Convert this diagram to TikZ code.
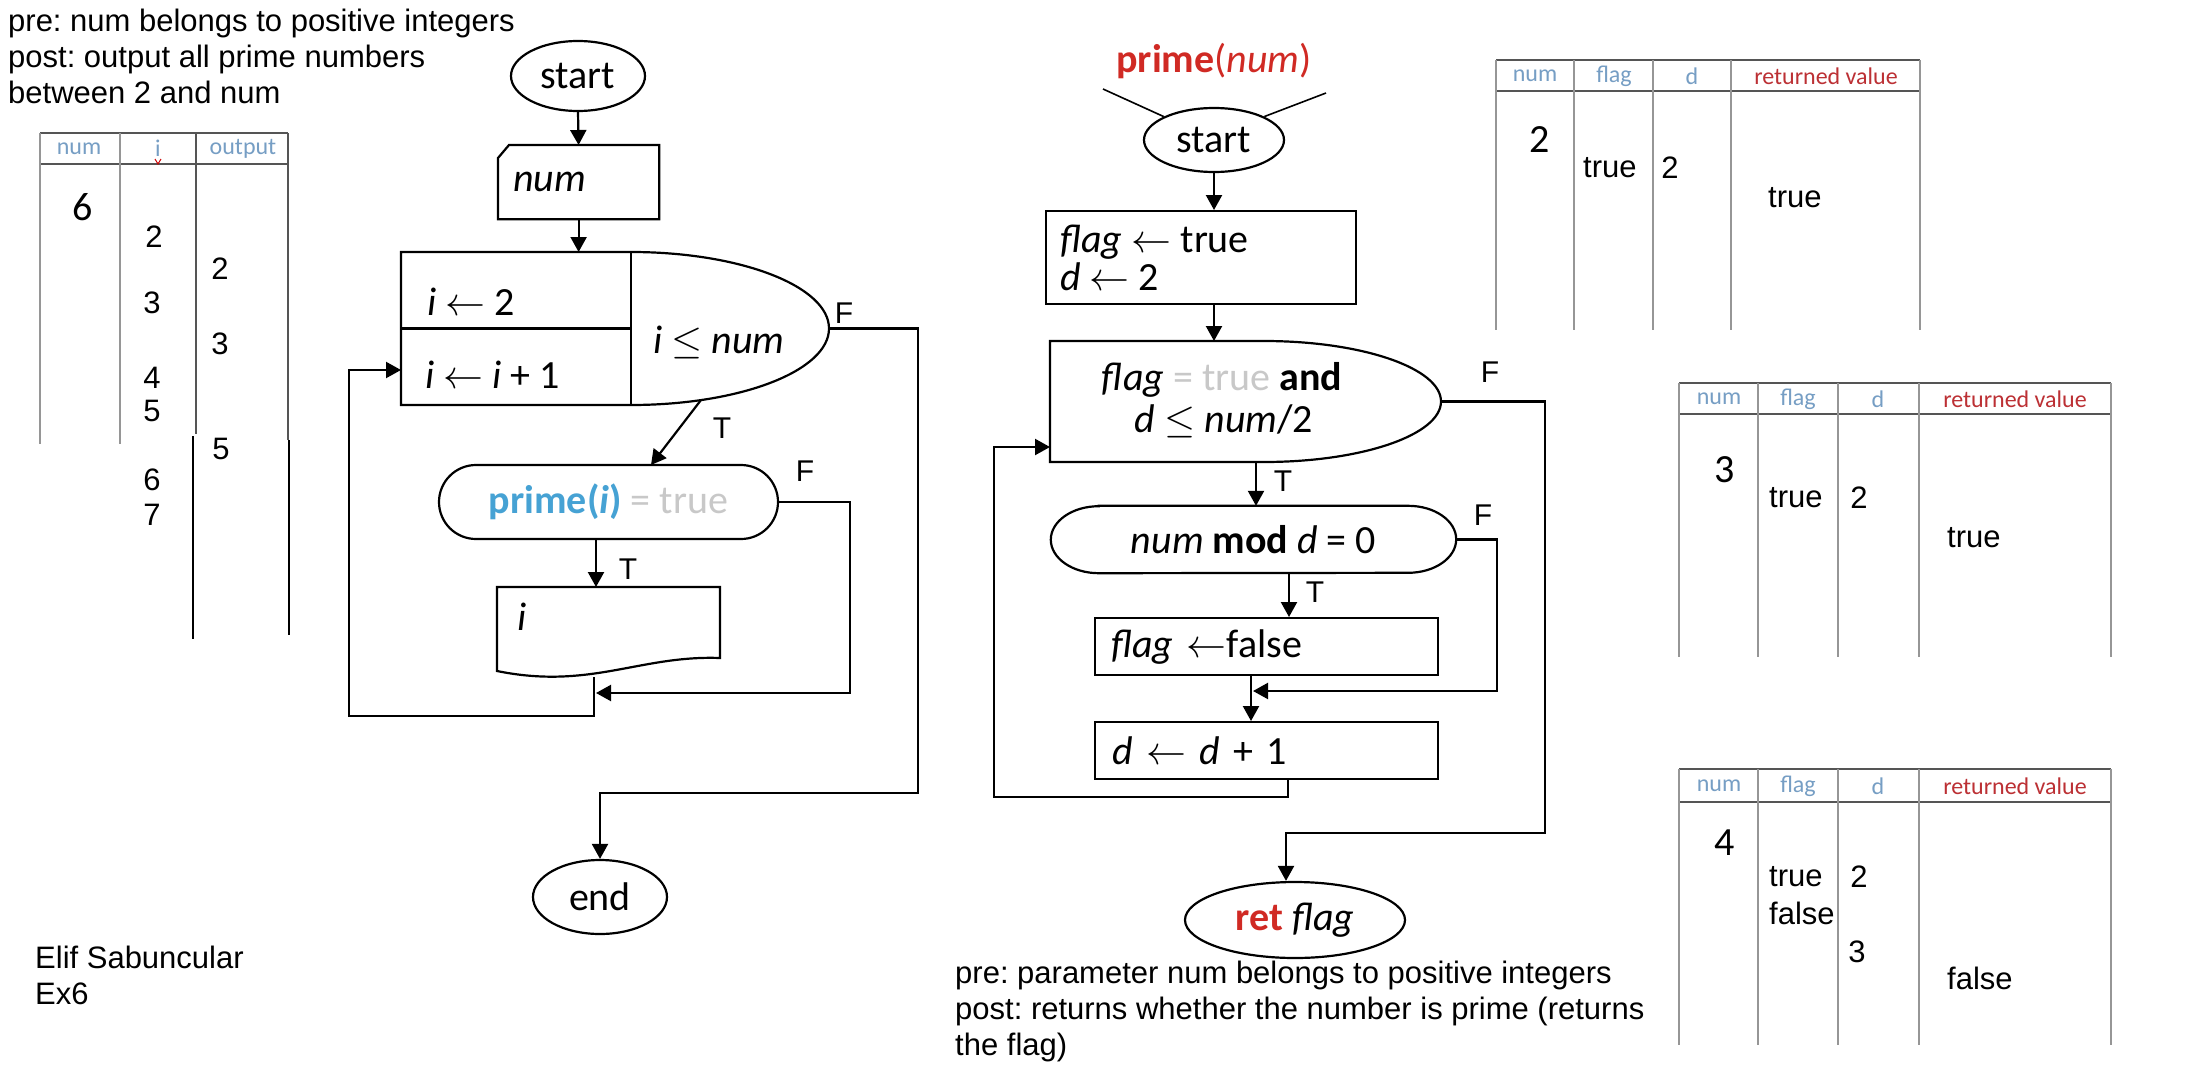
\RequirePackage{fix-cm}
\documentclass[tikz,border=0pt]{standalone}
\usepackage{fontspec}
\setmainfont{Liberation Sans}
\newfontfamily\calfont{Carlito}
\usetikzlibrary{arrows.meta,shapes.geometric,calc}
\frenchspacing
\definecolor{hdrblue}{RGB}{118,158,196}
\definecolor{hdrred}{RGB}{188,48,52}
\definecolor{fnred}{RGB}{208,42,36}
\definecolor{pblue}{RGB}{70,162,212}
\definecolor{lgray}{RGB}{200,200,200}
\definecolor{tline}{RGB}{150,150,150}
\definecolor{tdark}{RGB}{85,85,85}
\tikzset{
  flow/.style={line width=2.2pt, draw=black},
  arr/.style={flow, -{Triangle[length=15pt,width=16pt]}},
  fc/.style={font=\calfont\fontsize{40}{46}\selectfont, inner sep=0pt},
  tight/.style={text height=26pt, text depth=7pt},
  lab/.style={font=\fontsize{30}{36}\selectfont, inner sep=0pt},
  note/.style={font=\fontsize{31}{37}\selectfont, inner sep=0pt, anchor=base west},
  th/.style={font=\calfont\fontsize{24}{28}\selectfont, inner sep=0pt},
  td/.style={font=\fontsize{31}{36}\selectfont, inner sep=0pt},
  tnum/.style={font=\calfont\fontsize{40}{46}\selectfont, inner sep=0pt},
  ghost/.style={rectangle, inner sep=0pt, outer sep=0pt},
  sbox/.style={fc, draw, flow, anchor=north west, align=left},
}
\begin{document}
\begin{tikzpicture}[x=1pt,y=-1pt]
\useasboundingbox (0,0) rectangle (2190,1068);
\fill[white] (0,0) rectangle (2190,1068);

% ---------- notes ----------
\node[note] (n1) at (8,31) {pre: num belongs to positive integers};
\node[note] (n2) at (8,67) {post: output all prime numbers};
\node[note] (n3) at (8,103) {between 2 and num};
\node[note] (n4) at (955,983) {pre: parameter num belongs to positive integers};
\node[note] (n5) at (955,1019) {post: returns whether the number is prime (returns};
\node[note] (n6) at (955,1055) {the flag)};
\node[note] (n7) at (35,968) {Elif Sabuncular};
\node[note] (n8) at (35,1004) {Ex6};

% ---------- left trace table ----------
\draw[tdark, line width=1.8pt] (40,133) -- (288,133) (40,164) -- (288,164);
\draw[tline, line width=1.5pt] (40,133) -- (40,444) (120,133) -- (120,444);
\draw[tdark, line width=1.5pt] (196,133) -- (196,434) (288,133) -- (288,440);
\draw[black, line width=1.5pt] (193,436) -- (193,639) (289,440) -- (289,635);
\node[th, text=hdrblue] (lh1) at (79,149) {num};
\node[th, text=hdrblue] (lh2) at (158,148) {i};
\draw[red!80!black, line width=1pt] (155,159) -- (158,164) -- (161,159);
\node[th, text=hdrblue] (lh3) at (243,149) {output};
\node[tnum] (lv6) at (83,207) {6};
\node[td] (li2) at (154,237) {2};
\node[td] (li3) at (152,303) {3};
\node[td] (li4) at (152,378) {4};
\node[td] (li5) at (152,411) {5};
\node[td] (li6) at (152,480) {6};
\node[td] (li7) at (152,515) {7};
\node[td] (lo2) at (220,269) {2};
\node[td] (lo3) at (220,344) {3};
\node[td] (lo5) at (221,449) {5};

% ---------- left flowchart ----------
\node[ellipse, draw, flow, fc, minimum width=134pt, minimum height=70pt] (startL) at (578,76) {start};
\node[sbox, draw=none, minimum width=159pt, minimum height=72pt, inner xsep=14pt, text width=131pt] (numbox) at (498,145) {\textit{num}};
\draw[flow] ($(numbox.north west)+(0,13)$) -- ($(numbox.north west)+(11,0)$) -- (numbox.north east) -- (numbox.south east) -- (numbox.south west) -- cycle;

\node[ghost, anchor=north west, minimum width=230pt, minimum height=153pt] (bigL) at (401,252) {};
\draw[flow] (bigL.north west) -- (bigL.north east) arc[start angle=90, end angle=-90, x radius=198pt, y radius=76.5pt] -- (bigL.south west) -- cycle;
\draw[flow] (bigL.north east) -- (bigL.south east);
\draw[flow] (bigL.west) -- (bigL.east);
\coordinate (bigLtip) at ($(bigL.east)+(198,0)$);
\node[fc, anchor=west] (iinit) at (427,302) {\textit{i} $\leftarrow$ 2};
\node[fc, anchor=west] (iinc) at (425,375) {\textit{i} $\leftarrow$ \textit{i} + 1};
\node[fc, anchor=west] (icond) at (653,342) {\textit{i} $\leq$ \textit{num}};

\node[ghost, fc, draw, flow, rounded corners=37pt, minimum width=339pt, minimum height=74pt] (primeL) at (608.5,502) {{\color{pblue}\textbf{prime(\textit{i})}} {\color{lgray}= true}};

\node[ghost, anchor=north west, minimum width=223pt, minimum height=71pt] (outL) at (497,587) {};
\draw[flow] (outL.south east) .. controls ($(outL.south east)+(-80,-3)$) and ($(outL.south east)+(-130,32)$) .. ($(outL.south west)+(0,13)$) -- (outL.north west) -- (outL.north east) -- cycle;
\node[fc, anchor=west] (outtxt) at (517,617) {\textit{i}};

\node[ellipse, draw, flow, fc, minimum width=134pt, minimum height=74pt] (endL) at (600,897) {end};

\draw[arr] (startL.south) -- (numbox.north);
\draw[arr] (numbox.south) -- (numbox.south |- bigL.north);
\coordinate (tL1) at ($(bigL.south east)+(70,-5)$);
\coordinate (tL2) at ($(primeL.north)+(42.5,0)$);
\draw[arr] (tL1) -- (tL2);
\coordinate (xL) at (596,0);
\draw[arr] (xL |- primeL.south) -- (xL |- outL.north);
\coordinate (outLbot) at (594,677);
\coordinate (mergeL) at (596,693);
\draw[arr] (primeL.east) -- ++(72,0) |- (mergeL);
\coordinate (loopLb) at (594,716);
\coordinate (loopLin) at ($(bigL.south west)+(0,-35)$);
\draw[arr] (outLbot) -- (loopLb) -| ($(loopLin)+(-52,0)$) -- (loopLin);
\coordinate (endLin) at (600,793);
\draw[arr] (bigLtip) -- ++(89,0) |- (endLin) -- (endL.north);

\node[lab] (fL1) at (844,313) {F};
\node[lab] (tLl1) at (722,428) {T};
\node[lab] (fL2) at (805,471) {F};
\node[lab] (tLl2) at (628,569) {T};

% ---------- right flowchart ----------
\node[fc] (titleR) at (1214,61) {\color{fnred}\textbf{prime}(\textit{num})};
\node[ellipse, draw, flow, fc, minimum width=140pt, minimum height=64pt] (startR) at (1214,140) {start};
\coordinate (tl1) at (1103,89);
\coordinate (tl2) at (1326,93);
\draw[flow, line width=1.6pt] (tl1) -- (startR.north west);
\draw[flow, line width=1.6pt] (tl2) -- (startR.north east);

\node[sbox, minimum width=310pt, minimum height=93pt] (initR) at (1045,210) {};
\node[fc, tight, anchor=base west] (initR1) at (1060,252) {\textit{flag} $\leftarrow$ true};
\node[fc, tight, anchor=base west] (initR2) at (1060,290) {\textit{d} $\leftarrow$ 2};

\node[ghost, anchor=north west, minimum width=214pt, minimum height=121pt] (decR) at (1050,341) {};
\draw[flow] (decR.north west) -- (decR.north east) arc[start angle=90, end angle=-90, x radius=177pt, y radius=60.5pt] -- (decR.south west) -- cycle;
\coordinate (decRtip) at ($(decR.east)+(177,0)$);
\node[fc, tight, anchor=base] (decR1) at (1222,390) {\textit{flag} {\color{lgray}= true} \textbf{and}};
\node[fc, tight, anchor=base] (decR2) at (1224,432) {\textit{d} $\leq$ \textit{num}/2};

\node[fc, minimum width=405pt, minimum height=67pt] (modR) at (1253.5,539.5) {\textit{num} \textbf{mod} \textit{d} = 0};
\draw[flow] ($(modR.north west)+(48,0)$) -- ($(modR.north east)+(-48,0)$) arc[start angle=90, end angle=-90, x radius=48pt, y radius=33.5pt] -- ($(modR.south west)+(48,0)$) arc[start angle=270, end angle=90, x radius=48pt, y radius=33.5pt] -- cycle;

\node[sbox, minimum width=343pt, minimum height=57pt, inner xsep=16pt, text width=311pt] (flagF) at (1094,617) {\textit{flag} $\leftarrow$false};
\node[sbox, minimum width=343pt, minimum height=57pt, inner xsep=17pt, text width=309pt] (dInc) at (1094,721) {\textit{d} $\leftarrow$ \textit{d} + 1};

\node[ellipse, draw, flow, fc, minimum width=220pt, minimum height=76pt] (retR) at (1295,920) {{\color{fnred}\textbf{ret}} \textit{flag}};

\draw[arr] (startR.south) -- (startR.south |- initR.north);
\draw[arr] (startR.south |- initR.south) -- (startR.south |- decR.north);
\coordinate (xR1) at (1256,0);
\draw[arr] (xR1 |- decR.south) -- (xR1 |- modR.north);
\coordinate (xR2) at (1289,0);
\draw[arr] (xR2 |- modR.south) -- (xR2 |- flagF.north);
\coordinate (xR3) at (1251,0);
\draw[arr] (xR3 |- flagF.south) -- (xR3 |- dInc.north);
\coordinate (mergeR) at (1253,691);
\draw[arr] (modR.east) -- ++(41,0) |- (mergeR);
\coordinate (xR4) at (1288,0);
\coordinate (loopRb) at (1288,797);
\coordinate (loopRin) at ($(decR.south west)+(0,-15)$);
\draw[arr] (xR4 |- dInc.south) -- (loopRb) -| ($(loopRin)+(-56,0)$) -- (loopRin);
\coordinate (retin) at (1286,833);
\draw[arr] (decRtip) -- ++(104,0) |- (retin) -- (retin |- retR.north);

\node[lab] (fR1) at (1490,372) {F};
\node[lab] (tR1) at (1283,481) {T};
\node[lab] (fR2) at (1483,515) {F};
\node[lab] (tR2) at (1315,592) {T};

% ---------- right trace tables ----------
% table 1
\draw[tdark, line width=1.8pt] (1496,60) -- (1920,60) (1496,91) -- (1920,91);
\foreach \xx in {1496,1574,1653,1731,1920} \draw[tline, line width=1.5pt] (\xx,60) -- (\xx,330);
\node[th, text=hdrblue] (a1) at (1535,76) {num};
\node[th, text=hdrblue] (a2) at (1614,76) {flag};
\node[th, text=hdrblue] (a3) at (1692,76) {d};
\node[th, text=hdrred] (a4) at (1826,76) {returned value};
\node[tnum] (a5) at (1540,140) {2};
\node[td, anchor=west] (a6) at (1583,168) {true};
\node[td] (a7) at (1670,168) {2};
\node[td, anchor=west] (a8) at (1768,198) {true};
% table 2
\draw[tdark, line width=1.8pt] (1679,383) -- (2111,383) (1679,414) -- (2111,414);
\foreach \xx in {1679,1758,1838,1919,2111} \draw[tline, line width=1.5pt] (\xx,383) -- (\xx,657);
\node[th, text=hdrblue] (b1) at (1719,399) {num};
\node[th, text=hdrblue] (b2) at (1798,399) {flag};
\node[th, text=hdrblue] (b3) at (1878,399) {d};
\node[th, text=hdrred] (b4) at (2015,399) {returned value};
\node[tnum] (b5) at (1725,470) {3};
\node[td, anchor=west] (b6) at (1769,498) {true};
\node[td] (b7) at (1859,498) {2};
\node[td, anchor=west] (b8) at (1947,538) {true};
% table 3
\draw[tdark, line width=1.8pt] (1679,769) -- (2111,769) (1679,802) -- (2111,802);
\foreach \xx in {1679,1758,1838,1919,2111} \draw[tline, line width=1.5pt] (\xx,769) -- (\xx,1045);
\node[th, text=hdrblue] (c1) at (1719,786) {num};
\node[th, text=hdrblue] (c2) at (1798,786) {flag};
\node[th, text=hdrblue] (c3) at (1878,786) {d};
\node[th, text=hdrred] (c4) at (2015,786) {returned value};
\node[tnum] (c5) at (1725,843) {4};
\node[td, anchor=west] (c6) at (1769,877) {true};
\node[td, anchor=west] (c7) at (1769,913) {false};
\node[td] (c8) at (1859,877) {2};
\node[td] (c9) at (1857,952) {3};
\node[td, anchor=west] (c10) at (1947,978) {false};
\end{tikzpicture}
\end{document}
